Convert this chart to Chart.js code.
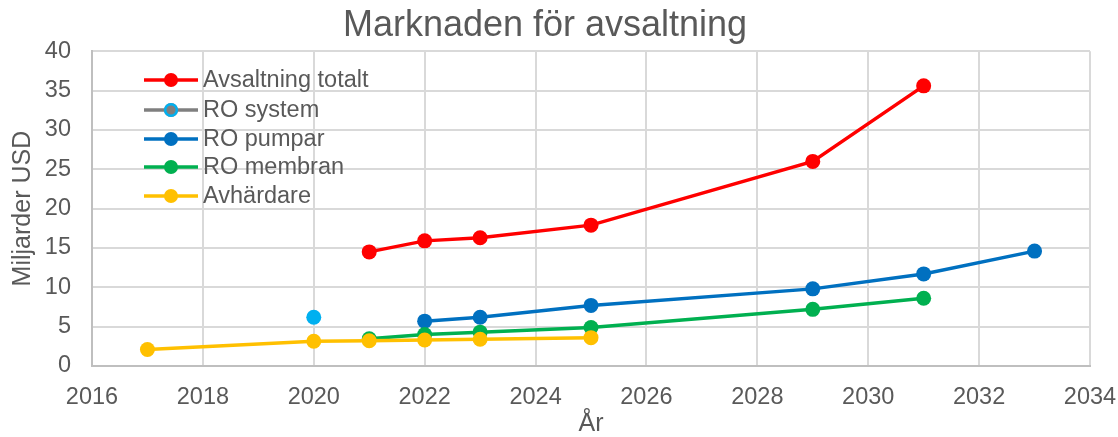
<!DOCTYPE html>
<html>
<head>
<meta charset="utf-8">
<script src="https://cdn.jsdelivr.net/npm/chart.js@4/dist/chart.umd.min.js"></script>
<style>
  html, body { margin: 0; padding: 0; background: #fff; }
  #wrap { width: 1118px; height: 437px; }
</style>
</head>
<body>
<div id="wrap"><canvas id="chart"></canvas></div>
<script>
// series names and colours
var seriesNames = ['Avsaltning totalt', 'RO system', 'RO pumpar', 'RO membran', 'Avhärdare'];
var seriesColors = ['#ff0000', '#7f7f7f', '#0070c0', '#00b050', '#ffc000'];

// values (billion USD)
var totalYears = [2021, 2022, 2023, 2025, 2029, 2031];
var totalValues = [14.5, 15.9, 16.3, 17.9, 26.0, 35.6];

var systemYears = [2020];
var systemValues = [6.2];

var pumpYears = [2022, 2023, 2025, 2029, 2031, 2033];
var pumpValues = [5.7, 6.2, 7.7, 9.8, 11.7, 14.6];

var membraneYears = [2021, 2022, 2023, 2025, 2029, 2031];
var membraneValues = [3.45, 4.0, 4.3, 4.9, 7.2, 8.6];

var softenerYears = [2017, 2020, 2021, 2022, 2023, 2025];
var softenerValues = [2.1, 3.15, 3.2, 3.3, 3.4, 3.6];

var FONT = "'Liberation Sans', Arial, sans-serif";
var TEXT = '#595959';

function pts(xs, ys) {
   return xs.map(function(x, i) { return { x: x, y: ys[i] }; });
}

function series(i, xs, ys, order, pointColor) {
   var c = pointColor || seriesColors[i];
   return {
      label: seriesNames[i],
      data: pts(xs, ys),
      borderColor: seriesColors[i],
      backgroundColor: c,
      pointBackgroundColor: c,
      pointBorderColor: c,
      borderWidth: 3.5,
      pointRadius: 7.5,
      pointBorderWidth: 0,
      pointHoverRadius: 7.5,
      showLine: true,
      order: order
   };
}

// legend drawn by hand so the RO system entry can show grey line + blue ring
var legendPlugin = {
   id: 'manualLegend',
   afterDraw: function(chart) {
      var ctx = chart.ctx;
      var x0 = 144, x1 = 198, mx = 171, tx = 203;
      var rows = [80, 110, 139, 167, 196];
      ctx.save();
      ctx.font = '23.5px ' + FONT;
      ctx.textBaseline = 'middle';
      for (var i = 0; i < seriesNames.length; i++) {
         var y = rows[i];
         ctx.strokeStyle = seriesColors[i];
         ctx.lineWidth = 3.5;
         ctx.beginPath();
         ctx.moveTo(x0, y);
         ctx.lineTo(x1, y);
         ctx.stroke();
         ctx.beginPath();
         ctx.arc(mx, y, 7, 0, Math.PI * 2);
         ctx.fillStyle = seriesColors[i];
         ctx.fill();
         if (i == 1) {
            ctx.strokeStyle = '#00b0f0';
            ctx.lineWidth = 2.5;
            ctx.beginPath();
            ctx.arc(mx, y, 5.8, 0, Math.PI * 2);
            ctx.stroke();
         }
         ctx.fillStyle = TEXT;
         ctx.fillText(seriesNames[i], tx, y + 1);
      }
      ctx.restore();
   }
};

var ctx = document.getElementById('chart').getContext('2d');
var chart = new Chart(ctx, {
   type: 'scatter',
   data: {
      datasets: [
         series(0, totalYears, totalValues, 5),
         series(1, systemYears, systemValues, 4, '#00b0f0'),
         series(2, pumpYears, pumpValues, 3),
         series(3, membraneYears, membraneValues, 2),
         series(4, softenerYears, softenerValues, 1)
      ]
   },
   options: {
      responsive: true,
      maintainAspectRatio: false,
      animation: false,
      layout: { padding: { left: 0, right: 28, top: 0, bottom: 0 } },
      plugins: {
         legend: { display: false },
         tooltip: { enabled: false },
         title: {
            display: true,
            text: 'Marknaden för avsaltning',
            color: TEXT,
            font: { family: FONT, size: 36, weight: 'normal' },
            padding: { top: 4, bottom: 4 }
         }
      },
      scales: {
         x: {
            type: 'linear',
            min: 2016,
            max: 2034,
            afterFit: function(scale) {
               scale.height = 71;
               scale.paddingLeft = 0;
               scale.paddingRight = 0;
            },
            ticks: {
               stepSize: 2,
               color: TEXT,
               font: { family: FONT, size: 23.5 },
               callback: function(v) { return String(v); },
               padding: 17,
               maxRotation: 0
            },
            grid: { color: '#d9d9d9', lineWidth: 2, drawTicks: false },
            border: { color: '#bfbfbf', width: 2 },
            title: {
               display: true,
               text: 'År',
               color: TEXT,
               font: { family: FONT, size: 25, lineHeight: 1 },
               padding: { top: 0, bottom: 0 }
            }
         },
         y: {
            min: 0,
            max: 40,
            afterFit: function(scale) { scale.width = 92; },
            ticks: {
               stepSize: 5,
               color: TEXT,
               font: { family: FONT, size: 23.5 },
               padding: 21
            },
            grid: { color: '#d9d9d9', lineWidth: 2, drawTicks: false },
            border: { color: '#bfbfbf', width: 2 },
            title: {
               display: true,
               text: 'Miljarder USD',
               color: TEXT,
               font: { family: FONT, size: 25 },
               padding: { top: 8, bottom: 0 }
            }
         }
      }
   },
   plugins: [legendPlugin]
});
</script>
</body>
</html>
